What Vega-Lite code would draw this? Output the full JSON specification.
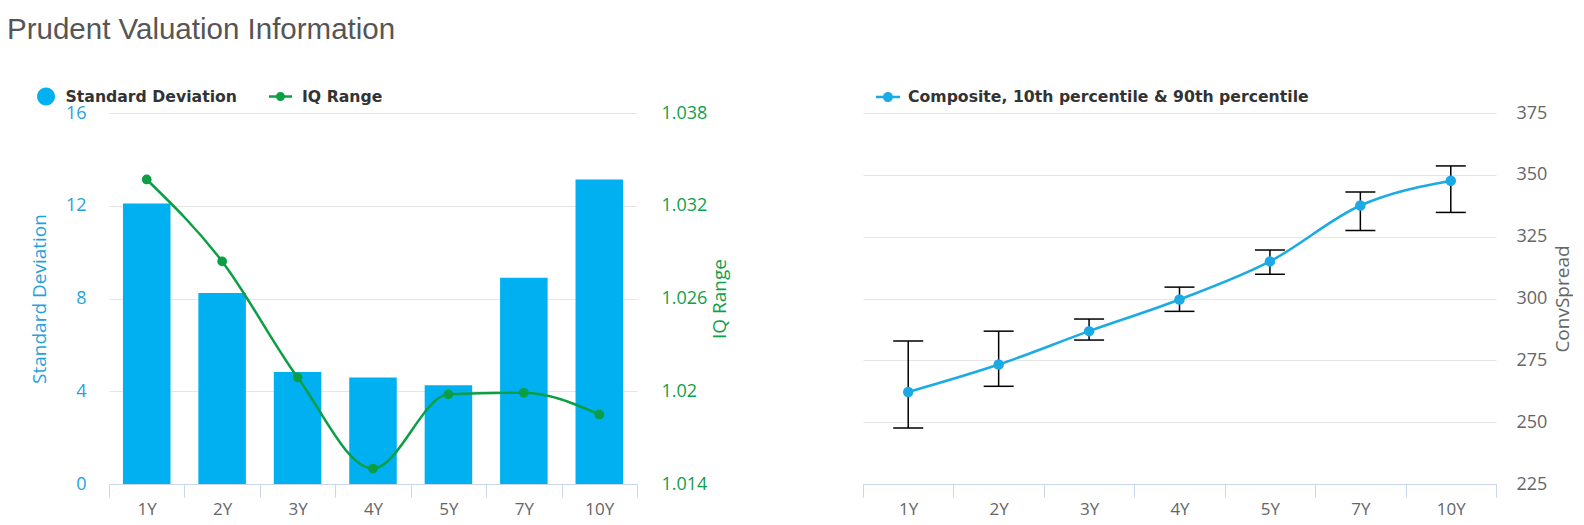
{
  "$schema": "https://vega.github.io/schema/vega-lite/v6.json",
  "padding": {"left": 7, "top": 14, "right": 0, "bottom": 3},
  "title": {"text": "Prudent Valuation Information", "anchor": "start", "frame": "group", "dx": -102, "font": "Liberation Sans", "fontSize": 29.5, "fontWeight": "normal", "color": "#555555", "offset": 40},
  "config": {"view": {"stroke": null}},
  "datasets": {
    "left": [
      {"tenor": "1Y", "sd": 12.1, "iq": 1.0337},
      {"tenor": "2Y", "sd": 8.24, "iq": 1.0284},
      {"tenor": "3Y", "sd": 4.83, "iq": 1.0209},
      {"tenor": "4Y", "sd": 4.59, "iq": 1.0150},
      {"tenor": "5Y", "sd": 4.26, "iq": 1.0198},
      {"tenor": "7Y", "sd": 8.89, "iq": 1.0199},
      {"tenor": "10Y", "sd": 13.13, "iq": 1.0185}
    ],
    "right": [
      {"tenor": "1Y", "val": 262.2, "lo": 247.6, "hi": 282.8},
      {"tenor": "2Y", "val": 273.3, "lo": 264.5, "hi": 286.8},
      {"tenor": "3Y", "val": 286.8, "lo": 283.2, "hi": 291.7},
      {"tenor": "4Y", "val": 299.6, "lo": 294.8, "hi": 304.6},
      {"tenor": "5Y", "val": 315.0, "lo": 309.8, "hi": 319.6},
      {"tenor": "7Y", "val": 337.6, "lo": 327.5, "hi": 343.1},
      {"tenor": "10Y", "val": 347.6, "lo": 334.8, "hi": 353.6}
    ]
  },
  "spacing": 132,
  "resolve": {"scale": {"color": "independent"}, "legend": {"color": "independent"}},
  "hconcat": [
    {
      "width": 528,
      "height": 371,
      "data": {"name": "left"},
      "encoding": {
        "x": {
          "field": "tenor", "type": "nominal",
          "sort": ["1Y", "2Y", "3Y", "4Y", "5Y", "7Y", "10Y"],
          "scale": {"type": "band", "paddingInner": 0, "paddingOuter": 0},
          "axis": {"title": null, "labelAngle": 0, "tickBand": "extent", "domainColor": "#ccd6eb", "tickColor": "#ccd6eb", "tickSize": 13, "labelColor": "#666666", "labelFont": "Open Sans", "labelFontSize": 17, "labelPadding": 4.5, "grid": false}
        }
      },
      "layer": [
        {
          "mark": {"type": "bar", "width": {"band": 0.63}},
          "encoding": {
            "y": {
              "field": "sd", "type": "quantitative",
              "scale": {"domain": [0, 16], "nice": false},
              "axis": {"orient": "left", "values": [0, 4, 8, 12, 16], "grid": true, "gridColor": "#e6e6e6", "domain": false, "ticks": false, "tickSize": 0, "labelColor": "#1fa3dc", "labelFont": "Open Sans", "labelFontSize": 18, "labelPadding": 23, "title": "Standard Deviation", "titleColor": "#1fa3dc", "titleFont": "Open Sans", "titleFontSize": 19, "titleFontWeight": "normal", "titlePadding": 16}
            },
            "color": {
              "datum": "Standard Deviation",
              "scale": {"range": ["#00b0f0"]},
              "legend": {
                "orient": "none", "legendX": -74.5, "legendY": -28, "title": null,
                "symbolSize": 529, "labelFont": "DejaVu Sans", "labelFontSize": 15.7, "labelFontWeight": "bold", "labelColor": "#333333",
                "labelOffset": 8, "padding": 0, "labelLimit": 600,
                "encoding": {
                  "symbols": {
                    "shape": {"value": "M0.78,0A0.78,0.78,0,1,1,-0.78,0A0.78,0.78,0,1,1,0.78,0Z"},
                    "fill": {"value": "#00b0f0"},
                    "stroke": {"value": "transparent"},
                    "strokeWidth": {"value": 0},
                    "opacity": {"value": 1}
                  }
                }
              }
            }
          }
        },
        {
          "encoding": {
            "y": {
              "field": "iq", "type": "quantitative",
              "scale": {"domain": [1.014, 1.038], "nice": false},
              "axis": {"orient": "right", "values": [1.014, 1.02, 1.026, 1.032, 1.038], "format": "~g", "grid": false, "domain": false, "ticks": false, "tickSize": 0, "labelColor": "#0fa04a", "labelFont": "Open Sans", "labelFontSize": 18, "labelPadding": 24, "title": "IQ Range", "titleColor": "#0fa04a", "titleFont": "Open Sans", "titleFontSize": 19, "titleFontWeight": "normal", "titlePadding": 4, "titleAngle": 270, "titleBaseline": "top"}
            },
            "color": {
              "datum": "IQ Range",
              "scale": {"range": ["#0a9e45"]},
              "legend": {
                "orient": "none", "legendX": 160, "legendY": -28, "title": null,
                "symbolSize": 529, "labelFont": "DejaVu Sans", "labelFontSize": 15.7, "labelFontWeight": "bold", "labelColor": "#333333",
                "labelOffset": 10, "padding": 0, "labelLimit": 600,
                "encoding": {
                  "symbols": {
                    "shape": {"value": "M-1,-0.11L1,-0.11L1,0.11L-1,0.11Z M0.39,0A0.39,0.39,0,1,1,-0.39,0A0.39,0.39,0,1,1,0.39,0Z"},
                    "fill": {"value": "#0a9e45"},
                    "stroke": {"value": "transparent"},
                    "strokeWidth": {"value": 0},
                    "opacity": {"value": 1}
                  }
                }
              }
            }
          },
          "layer": [
            {"mark": {"type": "line", "interpolate": "monotone", "strokeWidth": 2.5}},
            {"mark": {"type": "point", "filled": true, "size": 95, "opacity": 1}}
          ]
        }
      ],
      "resolve": {"scale": {"y": "independent", "color": "independent"}, "legend": {"color": "independent"}}
    },
    {
      "width": 633,
      "height": 371,
      "data": {"name": "right"},
      "encoding": {
        "x": {
          "field": "tenor", "type": "nominal",
          "sort": ["1Y", "2Y", "3Y", "4Y", "5Y", "7Y", "10Y"],
          "scale": {"type": "band", "paddingInner": 0, "paddingOuter": 0},
          "axis": {"title": null, "labelAngle": 0, "tickBand": "extent", "domainColor": "#ccd6eb", "tickColor": "#ccd6eb", "tickSize": 13, "labelColor": "#666666", "labelFont": "Open Sans", "labelFontSize": 17, "labelPadding": 4.5, "grid": false}
        }
      },
      "layer": [
        {
          "mark": {"type": "rule", "color": "black", "strokeWidth": 1.5},
          "encoding": {
            "y": {
              "field": "lo", "type": "quantitative", "title": "ConvSpread",
              "scale": {"domain": [225, 375], "nice": false, "padding": 0, "zero": false},
              "axis": {"orient": "right", "values": [225, 250, 275, 300, 325, 350, 375], "grid": true, "gridColor": "#e6e6e6", "domain": false, "ticks": false, "tickSize": 0, "labelColor": "#666666", "labelFont": "Open Sans", "labelFontSize": 18, "labelPadding": 20, "titleColor": "#666666", "titleFont": "Open Sans", "titleFontSize": 19, "titleFontWeight": "normal", "titlePadding": 7, "titleAngle": 270, "titleBaseline": "top"}
            },
            "y2": {"field": "hi"}
          }
        },
        {
          "mark": {"type": "tick", "color": "black", "thickness": 1.5, "size": 30, "opacity": 1},
          "encoding": {"y": {"field": "lo", "type": "quantitative", "title": "ConvSpread"}}
        },
        {
          "mark": {"type": "tick", "color": "black", "thickness": 1.5, "size": 30, "opacity": 1},
          "encoding": {"y": {"field": "hi", "type": "quantitative", "title": "ConvSpread"}}
        },
        {
          "mark": {"type": "line", "interpolate": "monotone", "strokeWidth": 2.5},
          "encoding": {
            "y": {"field": "val", "type": "quantitative", "title": "ConvSpread"},
            "color": {
              "datum": "Composite, 10th percentile & 90th percentile",
              "scale": {"range": ["#1aabe6"]},
              "legend": {
                "orient": "none", "legendX": 13, "legendY": -28, "title": null,
                "symbolSize": 576, "labelFont": "DejaVu Sans", "labelFontSize": 15.7, "labelFontWeight": "bold", "labelColor": "#333333",
                "labelOffset": 8, "padding": 0, "labelLimit": 700,
                "encoding": {
                  "symbols": {
                    "shape": {"value": "M-1,-0.1L1,-0.1L1,0.1L-1,0.1Z M0.42,0A0.42,0.42,0,1,1,-0.42,0A0.42,0.42,0,1,1,0.42,0Z"},
                    "fill": {"value": "#1aabe6"},
                    "stroke": {"value": "transparent"},
                    "strokeWidth": {"value": 0},
                    "opacity": {"value": 1}
                  }
                }
              }
            }
          }
        },
        {
          "mark": {"type": "point", "filled": true, "size": 110, "opacity": 1},
          "encoding": {
            "y": {"field": "val", "type": "quantitative", "title": "ConvSpread"},
            "color": {"datum": "Composite, 10th percentile & 90th percentile"}
          }
        }
      ]
    }
  ]
}
